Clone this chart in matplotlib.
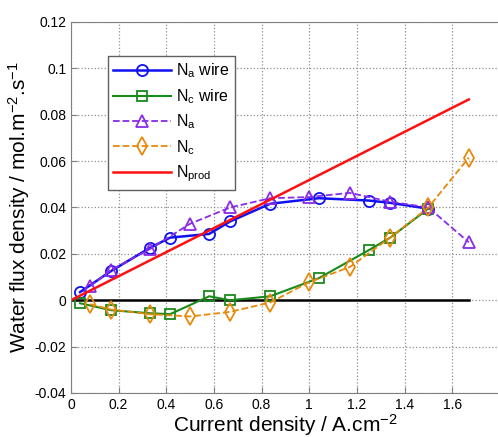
import numpy as np
import matplotlib
matplotlib.use("Agg")
import matplotlib.pyplot as plt

plt.rcParams['font.family'] = ['Liberation Sans', 'DejaVu Sans']
plt.rcParams['mathtext.default'] = 'regular'

# data
x_wire = [0.038, 0.168, 0.33, 0.416, 0.58, 0.668, 0.836, 1.04, 1.25, 1.34, 1.50]
na_wire = [0.0035, 0.0126, 0.0225, 0.027, 0.0286, 0.034, 0.0416, 0.044, 0.043, 0.042, 0.0395]
nc_wire = [-0.0013, -0.0043, -0.0056, -0.006, 0.0017, 0.0, 0.0017, 0.0095, 0.0216, 0.027, 0.0395]

x_model = [0.08, 0.168, 0.33, 0.50, 0.668, 0.836, 1.0, 1.17, 1.34, 1.50, 1.67]
na_model = [0.006, 0.013, 0.022, 0.033, 0.040, 0.044, 0.0445, 0.0463, 0.0425, 0.040, 0.025]
nc_model = [-0.0017, -0.004, -0.006, -0.007, -0.005, -0.001, 0.0078, 0.0143, 0.027, 0.040, 0.0615]

x_prod = [0.0, 1.67]
n_prod = [0.0, 0.0866]

fig = plt.figure(figsize=(4.98, 4.37), dpi=100)
ax = fig.add_axes([0.1426, 0.1007, 0.861, 0.849])

ax.plot(x_prod, [0, 0], color='black', lw=1.8)
ax.plot(x_wire, na_wire, '-o', color='#1010f0', lw=1.8, ms=8, mfc='none', mew=1.3, label='N$_a$ wire')
ax.plot(x_wire, nc_wire, '-s', color='#1a8a1a', lw=1.5, ms=7, mfc='none', mew=1.3, label='N$_c$ wire')
ax.plot(x_model, na_model, '--^', color='#8a2be8', lw=1.3, ms=9, mfc='none', mew=1.3, label='N$_a$')
ax.plot(x_model, nc_model, '--d', color='#e8890c', lw=1.3, ms=9, mfc='none', mew=1.3, label='N$_c$')
ax.plot(x_prod, n_prod, '-', color='#ff1010', lw=1.8, label='N$_{prod}$')

ax.set_xlim(0, 1.8)
ax.set_ylim(-0.04, 0.12)
ax.set_xticks(np.arange(0, 1.61, 0.2))
ax.set_xticklabels(['0', '0.2', '0.4', '0.6', '0.8', '1', '1.2', '1.4', '1.6'])
ax.set_yticks(np.arange(-0.04, 0.121, 0.02))
ax.set_yticklabels(['-0.04', '-0.02', '0', '0.02', '0.04', '0.06', '0.08', '0.1', '0.12'])
ax.tick_params(labelsize=10, direction='in', length=4, color='#808080')
ax.grid(True, linestyle=':', color='#909090', lw=0.9)
for s in ax.spines.values():
    s.set_color('#808080')

ax.set_xlabel('Current density / A.cm$^{-2}$', fontsize=15, labelpad=0)
ax.set_ylabel('Water flux density / mol.m$^{-2}$.s$^{-1}$', fontsize=15, labelpad=2)

leg = ax.legend(loc='upper left', bbox_to_anchor=(0.086, 0.908), fontsize=11.5, numpoints=1,
                handlelength=3.6, labelspacing=0.42, fancybox=False, framealpha=1,
                borderpad=0.35, handletextpad=0.3, borderaxespad=0)
leg.get_frame().set_edgecolor('#606060')

fig.savefig('out.png', dpi=100)
